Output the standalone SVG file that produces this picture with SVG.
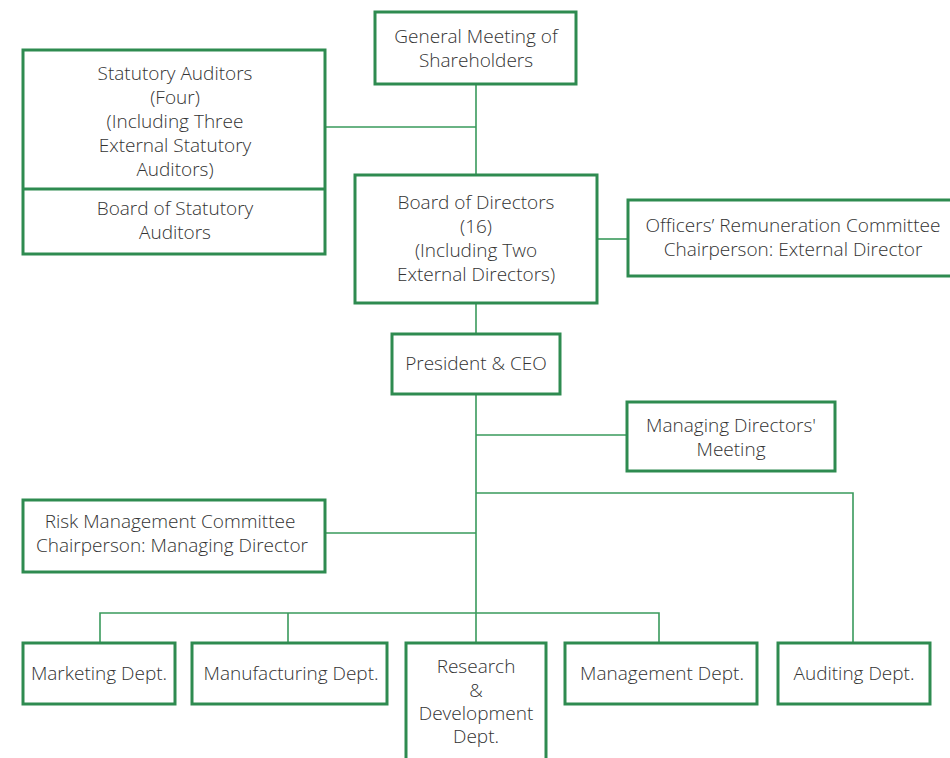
<svg xmlns="http://www.w3.org/2000/svg" width="950" height="758" viewBox="0 0 950 758">
<style>
.box{fill:#fff;stroke:#2e8b50;stroke-width:3}
.ln{fill:none;stroke:#3a9a5c;stroke-width:1.6}
text{font-family:"Open Sans","Noto Sans","Liberation Sans",sans-serif;font-size:19px;font-weight:300;fill:#333;text-anchor:middle}
</style>
<rect width="950" height="758" fill="#fff"/>
<g id="connectors">
<path class="ln" d="M476 84V175M325 127H476"/>
<path class="ln" d="M597 239H628"/>
<path class="ln" d="M476 303V334"/>
<path class="ln" d="M476 394V643M476 435H627M476 493H853V643M325 533H476"/>
<path class="ln" d="M100 643V613H659V643M288 613V643"/>
</g>
<g id="general-meeting">
<rect class="box" x="375" y="12" width="201" height="72"/>
<text x="476" y="43">General Meeting of</text>
<text x="476" y="67">Shareholders</text>
</g>
<g id="statutory-auditors">
<rect class="box" x="23" y="50" width="302" height="204"/>
<path class="box" d="M23 189H325"/>
<text x="175" y="80">Statutory Auditors</text>
<text x="175" y="104">(Four)</text>
<text x="175" y="128">(Including Three</text>
<text x="175" y="152">External Statutory</text>
<text x="175" y="176">Auditors)</text>
<text x="175" y="215">Board of Statutory</text>
<text x="175" y="239">Auditors</text>
</g>
<g id="board-of-directors">
<rect class="box" x="355" y="175" width="242" height="128"/>
<text x="476" y="209">Board of Directors</text>
<text x="476" y="233">(16)</text>
<text x="476" y="257">(Including Two</text>
<text x="476" y="281">External Directors)</text>
</g>
<g id="officers-remuneration">
<rect class="box" x="628" y="200" width="330" height="76"/>
<text x="793" y="232">Officers’ Remuneration Committee</text>
<text x="793" y="256">Chairperson: External Director</text>
</g>
<g id="president">
<rect class="box" x="392" y="334" width="168" height="60"/>
<text x="476" y="370">President &amp; CEO</text>
</g>
<g id="managing-directors">
<rect class="box" x="627" y="402" width="208" height="69"/>
<text x="731" y="432">Managing Directors'</text>
<text x="731" y="456">Meeting</text>
</g>
<g id="risk-management">
<rect class="box" x="23" y="500" width="302" height="72"/>
<text x="170" y="528">Risk Management Committee</text>
<text x="172" y="552">Chairperson: Managing Director</text>
</g>
<g id="marketing">
<rect class="box" x="23" y="643" width="152" height="61"/>
<text x="99" y="680">Marketing Dept.</text>
</g>
<g id="manufacturing">
<rect class="box" x="192" y="643" width="195" height="61"/>
<text x="291" y="680">Manufacturing Dept.</text>
</g>
<g id="research-development">
<rect class="box" x="406" y="643" width="140" height="120"/>
<text x="476" y="673">Research</text>
<text x="476" y="697">&amp;</text>
<text x="476" y="720">Development</text>
<text x="476" y="743">Dept.</text>
</g>
<g id="management">
<rect class="box" x="565" y="643" width="192" height="61"/>
<text x="662" y="680">Management Dept.</text>
</g>
<g id="auditing">
<rect class="box" x="778" y="643" width="152" height="61"/>
<text x="854" y="680">Auditing Dept.</text>
</g>
</svg>
